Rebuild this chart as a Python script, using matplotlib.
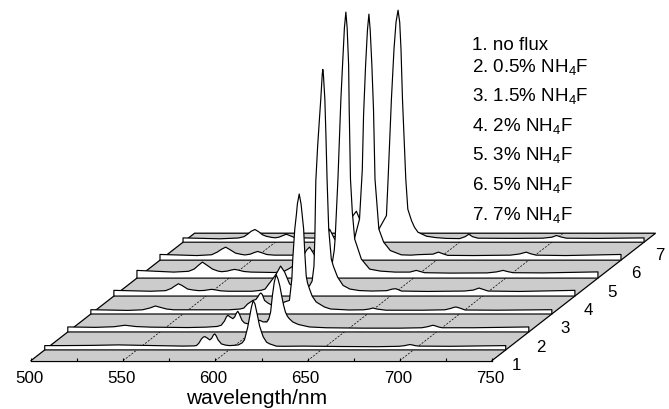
import matplotlib
matplotlib.use("Agg")
import matplotlib.pyplot as plt
from matplotlib.transforms import Affine2D, ScaledTranslation
from matplotlib.ticker import MultipleLocator

plt.rcParams['font.family'] = ['Liberation Sans', 'DejaVu Sans']
plt.rcParams['mathtext.fontset'] = 'custom'
plt.rcParams['mathtext.rm'] = 'Liberation Sans'
plt.rcParams['mathtext.default'] = 'regular'

legend_labels = ["1. no flux", "2. 0.5% NH$_4$F", "3. 1.5% NH$_4$F", "4. 2% NH$_4$F",
                 "5. 3% NH$_4$F", "6. 5% NH$_4$F", "7. 7% NH$_4$F"]
depth_labels = ["1", "2", "3", "4", "5", "6", "7"]
tick_values = [500, 550, 600, 650, 700, 750]

wl1 = [500, 510, 525, 540, 560, 575, 581, 582.3, 583.5, 585, 586, 586.8, 588, 589.5, 590.5, 591.5, 592.2, 593, 594, 595.8, 598, 600.3, 603, 605, 607, 608.3, 609.4, 610, 611.2, 612, 613, 614, 615.4, 616.5, 617.6, 618.5, 620.3, 622, 625.7, 630, 640, 660, 680, 692, 695, 697, 698, 699.5, 701, 703, 720, 750]
in1 = [4.3, 4.3, 4.5, 5.0, 4.3, 3.8, 4, 4.4, 6.5, 11, 12.8, 13.3, 12, 10, 11.5, 15, 16, 14, 10, 6, 4.8, 4.3, 4.6, 5, 7, 10, 17.7, 22, 34, 42, 49.3, 46, 34, 24, 17.7, 13, 7.7, 6, 3.7, 3.6, 3.8, 3.4, 3.2, 3.6, 4.2, 5, 5.3, 4.9, 4.2, 3.8, 3.6, 4.3]
wl2 = [500, 515, 525, 531, 537, 545, 565, 575, 581, 583.2, 585, 586, 586.8, 588, 589.5, 590.5, 591.5, 592.2, 593, 594.5, 595.8, 598, 601, 604, 606, 608, 609, 610, 611, 612, 613, 614, 615, 616, 617, 618, 619, 620, 622, 625, 631, 640, 660, 680, 692, 695, 697, 698, 699.5, 701, 703, 720, 750]
in2 = [5, 4.6, 5.2, 6.7, 5.4, 4.8, 4.4, 4.8, 5.5, 6.7, 11, 15, 16.7, 15, 13.3, 15, 19, 20.7, 18, 11.5, 9, 8, 9, 11.7, 10, 10, 13, 20, 37, 50, 57.3, 53, 46, 36, 27, 20, 16, 13.5, 10, 7.5, 5, 4.2, 3.8, 3.8, 4.2, 5.2, 6.2, 6.7, 6, 5, 4.2, 4.2, 5]
wl3 = [500, 520, 528, 532, 535, 538, 541, 545, 560, 575, 581, 583, 585, 587.9, 589.5, 590.5, 591.5, 592.2, 593, 594.2, 596, 598, 600, 603, 605, 607.7, 609, 609.5, 610.6, 611.5, 612, 613, 614, 615.4, 616, 616.8, 617.5, 618.6, 620, 622.2, 626.7, 630, 640, 648, 651, 653, 655, 660, 680, 692, 695, 697, 698, 700, 703, 720, 750]
in3 = [4.3, 3.6, 4.2, 6, 8, 6.5, 5, 4.2, 4.2, 4.2, 5, 6, 10, 13.6, 14.5, 17, 20, 21, 19.5, 13.6, 11, 9, 8, 9, 12, 13.6, 35, 55, 85, 100, 110, 120, 110, 85, 62, 38, 31, 25, 18, 12, 7, 5, 4, 4.2, 5, 6, 5, 3.8, 3.8, 4.2, 5.5, 6.7, 7, 6, 4, 3.8, 4.3]
wl4 = [500, 520, 528, 531, 533, 535, 537, 540, 543, 546, 549, 551, 553, 555, 558, 562, 575, 580, 582, 584, 586.2, 588, 590.4, 592.6, 595.3, 598, 601, 604, 606, 607.5, 608.5, 609, 609.5, 610.5, 611.5, 612.2, 613, 613.3, 613.6, 614.4, 615, 615.6, 616.5, 617.9, 619, 621.3, 624.3, 628, 633, 640, 648, 651, 653, 656, 670, 690, 695, 698, 700, 703, 720, 750]
in4 = [5.7, 4.8, 5.4, 7.5, 10, 12.3, 10.5, 7, 6, 5.4, 5.6, 6.2, 6.7, 6.2, 5.2, 4.8, 4.8, 5.8, 7, 12, 17.3, 22, 30, 24, 12, 9, 8, 8.5, 10, 15, 30, 60, 115, 150, 178, 197, 222, 226.6, 222, 197, 160, 117, 67, 37, 30, 19, 10.6, 7, 5.5, 5, 5.4, 7, 7.3, 5, 4.6, 5, 6, 8, 6.8, 5, 4.6, 5.7]
wl5 = [500, 520, 528, 531, 533.5, 535.5, 537.5, 541, 544, 546, 549, 551, 553, 555, 558, 562, 575, 580, 583, 584.6, 587, 589.5, 592, 593.6, 596, 598, 601, 604, 606, 607, 607.5, 609, 610.6, 611.5, 612.5, 613.3, 614, 614.8, 615.1, 615.8, 616.8, 618.1, 621.7, 626.2, 632, 640, 648, 651.5, 654, 656, 670, 690, 695, 698.6, 701, 704, 720, 750]
in5 = [7.7, 6, 6.8, 9, 13, 16, 13.5, 9, 7, 6.4, 7, 8, 8.7, 8, 6.6, 6, 5.6, 7, 10, 12, 22, 20, 28, 31, 24, 15, 12, 12, 16, 28, 40, 99, 179, 213, 250, 266, 250, 213, 170, 99, 66, 39, 19, 9, 7, 6, 6, 7.7, 6.4, 5.4, 5, 5.2, 6.2, 7.7, 6.5, 5.4, 5.2, 6.2]
wl6 = [500, 520, 528, 531, 533.5, 535.6, 537.5, 541, 544, 546, 549, 551, 553, 555, 558, 562, 575, 580, 584, 587, 589.5, 592, 594.7, 598, 602, 605.4, 608.2, 609.7, 610.4, 611.5, 612.5, 613.3, 614, 614.9, 615.8, 616.6, 618.7, 621.3, 624.9, 630.9, 636, 640, 648, 651, 654, 656, 670, 690, 695, 698.6, 701, 704, 720, 750]
in6 = [5.7, 4.6, 5.4, 8, 11, 13, 11, 7, 5.8, 5.2, 6, 7.5, 8.7, 7.5, 5.6, 5, 5, 6, 10, 22, 20, 31, 21, 14, 15, 21, 41, 90, 145, 195, 230, 246, 230, 195, 150, 81, 31, 18, 9.6, 5.3, 5, 5.5, 6, 8, 6, 4.8, 4.6, 5, 6.2, 8, 6.4, 5, 4.6, 5.7]
wl7 = [500, 520, 530, 533, 535, 537, 539, 541, 543, 545, 548, 550, 552, 554, 556, 558, 560, 562, 575, 584, 587, 589.6, 592.2, 594, 595.8, 598, 602, 606.3, 610.3, 611.2, 613, 614.4, 615.5, 616.6, 617.5, 618.2, 619, 620.8, 621.9, 623.9, 625.5, 627.4, 632, 637, 642.8, 650, 653, 655, 657, 660, 680, 695, 700, 702.5, 705, 708, 725, 750]
in7 = [4.3, 3.4, 4.2, 5.5, 8, 11, 12.7, 10.5, 7.5, 6, 4.8, 4.4, 5, 6.5, 8, 6.5, 5, 4.4, 4, 6, 12, 20, 26.6, 31, 23, 12, 8, 13.3, 26.6, 63, 143, 193, 220, 232, 220, 193, 143, 63, 33, 21.6, 15, 10, 6, 4.6, 3.8, 3.6, 5.5, 8, 5.5, 4, 3.8, 4, 5, 6.7, 5.2, 4, 3.8, 4.3]

spectra = [(wl1, in1), (wl2, in2), (wl3, in3), (wl4, in4), (wl5, in5), (wl6, in6), (wl7, in7)]

W, H = 669, 410
fig = plt.figure(figsize=(W / 100, H / 100), dpi=100)
FLOOR_Y = 361.6
ax = fig.add_axes([31 / W, (H - FLOOR_Y) / H, 461 / W, FLOOR_Y / H])
ax.set_xlim(500, 750)
ax.set_ylim(0, FLOOR_Y)
PX = 461 / 250
for s in ['top', 'left', 'right']:
    ax.spines[s].set_visible(False)
ax.spines['bottom'].set_linewidth(0.9)
ax.spines['bottom'].set_zorder(30)
ax.patch.set_alpha(0)
ax.set_yticks([])
ax.set_xticks(tick_values)
ax.set_xticklabels([str(v) for v in tick_values])
ax.xaxis.set_minor_locator(MultipleLocator(25))
ax.tick_params(axis='x', which='both', direction='in', length=2, width=0.8, labelsize=12.2, pad=6.5)
offset = ScaledTranslation(-2 / 100, 0, fig.dpi_scale_trans)
for lbl in ax.get_xticklabels():
    lbl.set_transform(lbl.get_transform() + offset)
ax.set_xlabel("wavelength/nm", fontsize=15, labelpad=2.5, x=0.49)

SLOPE_X = 23.05 / 17.95
LAYER = 17.95
START = 10.7
BACK = 127.4


def shift(depth_px):
    return Affine2D().translate(depth_px * SLOPE_X / PX, depth_px) + ax.transData


# floor
ax.fill([500, 750, 750 + BACK * SLOPE_X / PX, 500 + BACK * SLOPE_X / PX], [0, 0, BACK, BACK],
        fc='#cccccc', ec='none', zorder=1, clip_on=False)
ax.plot([500, 500 + BACK * SLOPE_X / PX, 750 + BACK * SLOPE_X / PX, 750],
        [0, BACK, BACK, 0], color='k', lw=0.9, zorder=2, clip_on=False, solid_joinstyle='miter')
for v in tick_values[1:-1]:
    ax.plot([v, v + BACK * SLOPE_X / PX], [0, BACK], color='k', lw=0.5,
            ls=(0, (3, 2)), zorder=2, clip_on=False)

# spectra, from back to front
for i in range(6, -1, -1):
    wl, val = spectra[i]
    depth = START + i * LAYER
    ax.fill(list(wl) + [750, 500], list(val) + [0, 0], fc='white', ec='k', lw=0.85,
            transform=shift(depth), zorder=10 + (6 - i), clip_on=False, joinstyle='round')

# depth axis labels
for i, t in enumerate(depth_labels):
    depth = START + i * LAYER
    ax.annotate(t, xy=(750 + depth * SLOPE_X / PX, depth), xycoords='data',
                xytext=(8 + 0.6 * i, -10.5 + 0.25 * i), textcoords='offset points', fontsize=12.2,
                ha='center', va='center', annotation_clip=False, zorder=40)

legend_y = [50, 71.7, 101, 131, 160, 190, 220]
for t, y in zip(legend_labels, legend_y):
    fig.text(472.5 / W, 1 - y / H, t, fontsize=13.5, ha='left', va='baseline')

fig.savefig("out.png", dpi=100)
